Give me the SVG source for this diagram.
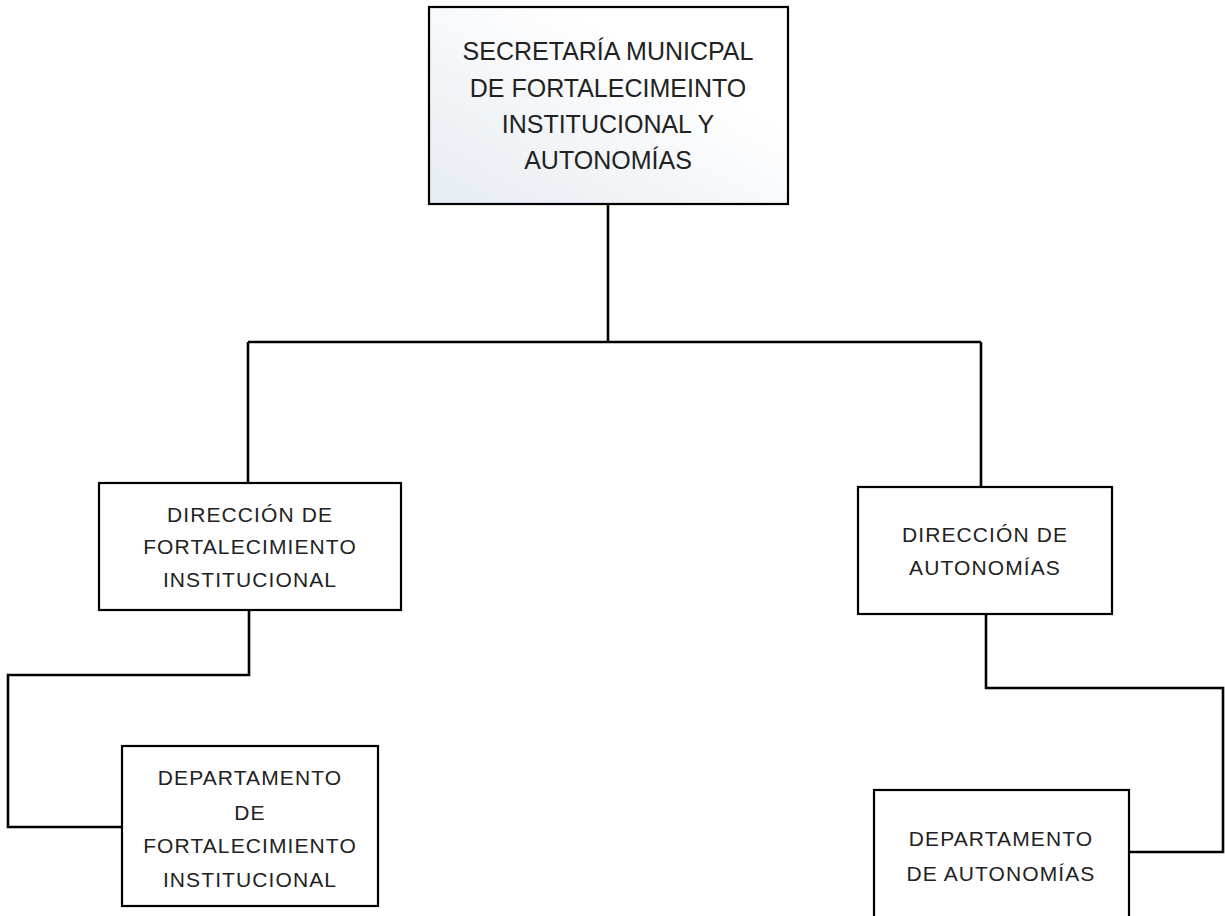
<svg xmlns="http://www.w3.org/2000/svg" width="1225" height="916" viewBox="0 0 1225 916">
<style>
.box{fill:#fff;stroke:#000;stroke-width:2.2}
.conn{fill:none;stroke:#000;stroke-width:2.6}
text{font-family:"Liberation Sans",Arial,sans-serif;fill:#222;text-anchor:middle}
.t1{font-size:25px}
.t2{font-size:21px;letter-spacing:1.1px}
</style>
<defs>
<linearGradient id="g" x1="0" y1="1" x2="0.7" y2="0.3">
<stop offset="0" stop-color="#e6ecf2"/>
<stop offset="1" stop-color="#ffffff"/>
</linearGradient>
</defs>
<rect width="1225" height="916" fill="#fff"/>
<g id="connectors">
<path class="conn" d="M608 204 V342 M248 342 H981 M248 342 V483 M981 342 V487"/>
<path class="conn" d="M249 610 V675 H8 V827 H122"/>
<path class="conn" d="M986 614 V688 H1223 V852 H1129"/>
</g>
<g id="secretaria">
<rect class="box" x="429" y="7" width="359" height="197" style="fill:url(#g)"/>
<text class="t1" x="608" y="60">SECRETARÍA MUNICPAL</text>
<text class="t1" x="608" y="97">DE FORTALECIMEINTO</text>
<text class="t1" x="608" y="133">INSTITUCIONAL Y</text>
<text class="t1" x="608" y="169">AUTONOMÍAS</text>
</g>
<g id="dir-fortalecimiento">
<rect class="box" x="99" y="483" width="302" height="127"/>
<text class="t2" x="250" y="522">DIRECCIÓN DE</text>
<text class="t2" x="250" y="554">FORTALECIMIENTO</text>
<text class="t2" x="250" y="587">INSTITUCIONAL</text>
</g>
<g id="dir-autonomias">
<rect class="box" x="858" y="487" width="254" height="127"/>
<text class="t2" x="985" y="542">DIRECCIÓN DE</text>
<text class="t2" x="985" y="575">AUTONOMÍAS</text>
</g>
<g id="dep-fortalecimiento">
<rect class="box" x="122" y="746" width="256" height="160"/>
<text class="t2" x="250" y="785">DEPARTAMENTO</text>
<text class="t2" x="250" y="820">DE</text>
<text class="t2" x="250" y="853">FORTALECIMIENTO</text>
<text class="t2" x="250" y="887">INSTITUCIONAL</text>
</g>
<g id="dep-autonomias">
<rect class="box" x="874" y="790" width="255" height="140"/>
<text class="t2" x="1001" y="846">DEPARTAMENTO</text>
<text class="t2" x="1001" y="881">DE AUTONOMÍAS</text>
</g>
</svg>
